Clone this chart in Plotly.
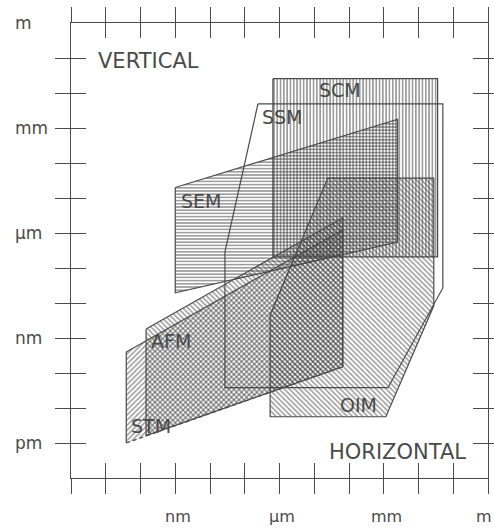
import plotly.graph_objects as go

# Resolution ranges of microscopes, log10 of length in metres
# x: horizontal resolution/range, y: vertical resolution/range
sem_x = [-9.0, -2.6, -2.6, -9.0]
sem_y = [-4.7, -2.75, -6.26, -7.71]

scm_x = [-6.19, -1.45, -1.45, -6.19]
scm_y = [-1.59, -1.59, -6.68, -6.68]

ssm_x = [-6.62, -1.30, -1.30, -2.88, -7.57, -7.57]
ssm_y = [-2.31, -2.31, -7.57, -10.42, -10.42, -6.54]

oim_x = [-6.27, -6.27, -4.61, -1.56, -1.56, -2.94]
oim_y = [-11.25, -8.34, -4.43, -4.43, -8.08, -11.25]

afm_x = [-9.84, -4.18, -4.18, -9.84]
afm_y = [-8.74, -5.57, -9.82, -11.79]

stm_x = [-10.41, -10.41, -4.18, -4.18]
stm_y = [-12.0, -9.40, -5.91, -9.82]

# label positions (log10 m)
label_names = ["SCM", "SSM", "SEM", "AFM", "STM", "OIM"]
label_x = [-4.26, -5.90, -8.26, -9.12, -9.69, -3.74]
label_y = [-1.92, -2.69, -5.09, -9.08, -11.51, -10.91]

# decade ticks and unit names
x_decades = list(range(-12, 1))
y_decades = list(range(-12, 0))
unit_exps = [-12, -9, -6, -3, 0]
unit_names = ["pm", "nm", "µm", "mm", "m"]

X_MIN, X_MAX = -12, 0
Y_MIN, Y_MAX = -13, 0

INK = "#4a4a4a"
HATCH = "#3c3c3c"
FONT = "DejaVu Sans"

fig = go.Figure()


def region(xs, ys, shape, size, solidity, line=True):
    fig.add_trace(go.Scatter(
        x=xs + [xs[0]], y=ys + [ys[0]],
        mode="lines", fill="toself",
        fillcolor="rgba(0,0,0,0)",
        fillpattern=dict(shape=shape, size=size, solidity=solidity,
                         fgcolor=HATCH, bgcolor="rgba(0,0,0,0)"),
        line=dict(color=INK, width=1.2 if line else 0),
        hoverinfo="skip", showlegend=False))


region(scm_x, scm_y, "|", 3.3, 0.5)
region(sem_x, sem_y, "-", 3.2, 0.5)
region(oim_x, oim_y, "\\", 3.6, 0.45)
region(stm_x, stm_y, "/", 3.6, 0.45, line=False)
region(afm_x, afm_y, "\\", 3.6, 0.45)

# SSM drawn as outline only
fig.add_trace(go.Scatter(x=ssm_x + [ssm_x[0]], y=ssm_y + [ssm_y[0]], mode="lines",
                         line=dict(color=INK, width=1.2), hoverinfo="skip",
                         showlegend=False))

# STM outline: solid sides, dashed lower edge
fig.add_trace(go.Scatter(x=[stm_x[3], stm_x[2], stm_x[1], stm_x[0]],
                         y=[stm_y[3], stm_y[2], stm_y[1], stm_y[0]], mode="lines",
                         line=dict(color=INK, width=1.2), hoverinfo="skip",
                         showlegend=False))
fig.add_trace(go.Scatter(x=[stm_x[0], stm_x[3]], y=[stm_y[0], stm_y[3]], mode="lines",
                         line=dict(color=INK, width=1.2, dash="4px,3px"),
                         hoverinfo="skip", showlegend=False))

# invisible trace to carry the inner tick axes
fig.add_trace(go.Scatter(x=[-6], y=[-6], xaxis="x2", yaxis="y2", mode="markers",
                         marker=dict(opacity=0), hoverinfo="skip", showlegend=False))

annotations = []
for name, lx, ly in zip(label_names, label_x, label_y):
    annotations.append(dict(x=lx, y=ly, text=name, showarrow=False,
                            font=dict(family=FONT, size=19, color=INK)))
annotations.append(dict(x=-9.78, y=-1.09, text="VERTICAL", showarrow=False,
                        font=dict(family=FONT, size=21, color=INK)))
annotations.append(dict(x=-2.6, y=-12.25, text="HORIZONTAL", showarrow=False,
                        font=dict(family=FONT, size=21, color=INK)))

# unit names along both axes, placed in paper coordinates outside the plot area
for e, u in zip(unit_exps, unit_names):
    annotations.append(dict(xref="paper", yref="paper", x=-0.139,
                            y=(e - Y_MIN) / (Y_MAX - Y_MIN), text=u, showarrow=False,
                            xanchor="left", yanchor="middle",
                            font=dict(family=FONT, size=17, color=INK)))
    if e > X_MIN:
        px = (e - X_MIN) / (X_MAX - X_MIN) + 0.006
        anchor = "center"
        if e == X_MAX:
            px, anchor = 1.0144, "right"
        annotations.append(dict(xref="paper", yref="paper", x=px, y=-0.1099,
                                text=u, showarrow=False, xanchor=anchor,
                                yanchor="bottom",
                                font=dict(family=FONT, size=16, color=INK)))

axis_common = dict(showgrid=False, zeroline=False, showticklabels=False,
                   automargin=False, ticklen=15, tickwidth=1.2, tickcolor=INK,
                   mirror="ticks")

fig.update_layout(
    width=494, height=529, autosize=False,
    margin=dict(l=71, r=6, t=23, b=51, autoexpand=False),
    paper_bgcolor="white", plot_bgcolor="white",
    xaxis=dict(range=[X_MIN, X_MAX], tickvals=x_decades, ticks="outside",
               showline=True, linecolor=INK, linewidth=1.2, **axis_common),
    yaxis=dict(range=[Y_MIN, Y_MAX], tickvals=y_decades, ticks="outside",
               showline=True, linecolor=INK, linewidth=1.2, **axis_common),
    xaxis2=dict(range=[X_MIN, X_MAX], tickvals=x_decades, ticks="inside",
                overlaying="x", side="bottom", showline=False, **axis_common),
    yaxis2=dict(range=[Y_MIN, Y_MAX], tickvals=y_decades, ticks="inside",
                overlaying="y", side="left", showline=False, **axis_common),
    annotations=annotations,
    showlegend=False,
)

fig.write_html("out.html", config={"responsive": False},
               post_script="document.body.style.margin='0';"
                           "document.body.style.overflow='hidden';")
